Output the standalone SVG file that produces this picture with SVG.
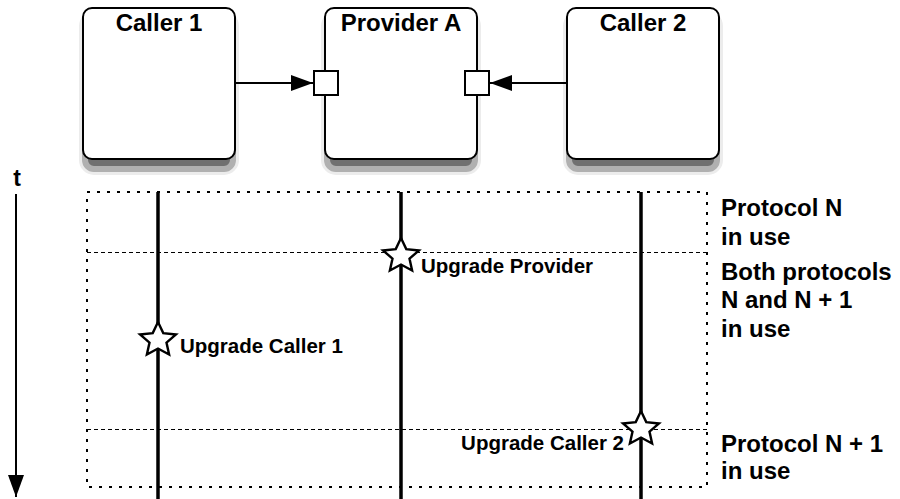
<svg xmlns="http://www.w3.org/2000/svg" xmlns:xlink="http://www.w3.org/1999/xlink" width="900" height="499" viewBox="0 0 900 499">
  <defs>
    <marker id="arrow" markerWidth="22" markerHeight="16" refX="22" refY="8" orient="auto" markerUnits="userSpaceOnUse">
      <path d="M0,0 L22,8 L0,16 Z" fill="#000"/>
    </marker>
    <marker id="tarrow" markerWidth="16" markerHeight="22" refX="8" refY="22" orient="0" markerUnits="userSpaceOnUse">
      <path d="M0,0 L16,0 L8,22 Z" fill="#000"/>
    </marker>
    <path id="star" d="M0,-18 L5.25,-6.88 L17.98,-5.56 L8.49,2.63 L11.11,14.56 L0,8.5 L-11.11,14.56 L-8.49,2.63 L-17.98,-5.56 L-5.25,-6.88 Z"/>
  </defs>
  <style>
    text { font-family: "Liberation Sans", Arial, Helvetica, sans-serif; font-weight: bold; fill: #000; }
    .shout { fill: #d8d8d8; stroke: #ececec; stroke-width: 12; stroke-linejoin: round; }
    .shin { fill: #707070; stroke: #b0b0b0; stroke-width: 6; stroke-linejoin: round; }
    .box { fill: #fff; stroke: #000; stroke-width: 2; }
    .title { font-size: 24px; text-anchor: middle; }
    .port { fill: #fff; stroke: #000; stroke-width: 2; }
    .conn { stroke: #000; stroke-width: 2; fill: none; }
    .frame { fill: none; stroke: #000; stroke-width: 2; stroke-dasharray: 3 7; }
    .phase { stroke: #000; stroke-width: 1.2; stroke-dasharray: 4 3; fill: none; }
    .life { stroke: #000; stroke-width: 3.5; }
    .star { fill: #fff; stroke: #000; stroke-width: 2.4; stroke-linejoin: miter; }
    .event { font-size: 20.5px; }
    .phaselabel { font-size: 24px; }
  </style>

  <g id="shadows">
    <path class="shout" d="M94,17 H224 A9,9 0 0 1 233,26 V160 A9,9 0 0 1 224,169 H94 A9,9 0 0 1 85,160 V26 A9,9 0 0 1 94,17 Z"/>
    <path class="shin" d="M94,17 H224 A9,9 0 0 1 233,26 V160 A9,9 0 0 1 224,169 H94 A9,9 0 0 1 85,160 V26 A9,9 0 0 1 94,17 Z"/>
    <path class="shout" d="M336,17 H466 A9,9 0 0 1 475,26 V160 A9,9 0 0 1 466,169 H336 A9,9 0 0 1 327,160 V26 A9,9 0 0 1 336,17 Z"/>
    <path class="shin" d="M336,17 H466 A9,9 0 0 1 475,26 V160 A9,9 0 0 1 466,169 H336 A9,9 0 0 1 327,160 V26 A9,9 0 0 1 336,17 Z"/>
    <path class="shout" d="M578,17 H708 A9,9 0 0 1 717,26 V160 A9,9 0 0 1 708,169 H578 A9,9 0 0 1 569,160 V26 A9,9 0 0 1 578,17 Z"/>
    <path class="shin" d="M578,17 H708 A9,9 0 0 1 717,26 V160 A9,9 0 0 1 708,169 H578 A9,9 0 0 1 569,160 V26 A9,9 0 0 1 578,17 Z"/>
  </g>

  <g id="caller1">
    <rect class="box" x="83" y="8" width="152" height="151" rx="9" ry="9"/>
    <text class="title" x="159" y="31">Caller 1</text>
  </g>

  <g id="providerA">
    <rect class="box" x="325" y="8" width="152" height="151" rx="9" ry="9"/>
    <text class="title" x="401" y="31">Provider A</text>
    <rect class="port" x="314" y="71" width="24" height="24"/>
    <rect class="port" x="465" y="71" width="24" height="24"/>
  </g>

  <g id="caller2">
    <rect class="box" x="567" y="8" width="152" height="151" rx="9" ry="9"/>
    <text class="title" x="643" y="31">Caller 2</text>
  </g>

  <g id="connectors">
    <line class="conn" x1="235" y1="83" x2="313" y2="83" marker-end="url(#arrow)"/>
    <line class="conn" x1="567" y1="83" x2="490" y2="83" marker-end="url(#arrow)"/>
  </g>

  <g id="timeaxis">
    <text x="17" y="186" font-size="23" text-anchor="middle">t</text>
    <line class="conn" x1="16" y1="194" x2="16" y2="497" marker-end="url(#tarrow)"/>
  </g>

  <g id="timeline">
    <rect class="frame" x="87" y="192" width="620" height="295"/>
    <line class="phase" x1="87" y1="252.5" x2="707" y2="252.5"/>
    <line class="phase" x1="87" y1="429.5" x2="707" y2="429.5"/>
    <line class="life" x1="158" y1="192" x2="158" y2="499"/>
    <line class="life" x1="401" y1="192" x2="401" y2="499"/>
    <line class="life" x1="641" y1="192" x2="641" y2="499"/>
  </g>

  <g id="upgradeProvider">
    <use href="#star" class="star" x="401" y="256"/>
    <text class="event" x="421" y="273">Upgrade Provider</text>
  </g>
  <g id="upgradeCaller1">
    <use href="#star" class="star" x="158" y="340"/>
    <text class="event" x="180" y="353">Upgrade Caller 1</text>
  </g>
  <g id="upgradeCaller2">
    <use href="#star" class="star" x="641" y="429"/>
    <text class="event" x="624" y="450" text-anchor="end">Upgrade Caller 2</text>
  </g>

  <g id="phaseLabels">
    <text class="phaselabel" x="721" y="216">Protocol N</text>
    <text class="phaselabel" x="721" y="245">in use</text>
    <text class="phaselabel" x="721" y="280">Both protocols</text>
    <text class="phaselabel" x="721" y="308">N and N + 1</text>
    <text class="phaselabel" x="721" y="337">in use</text>
    <text class="phaselabel" x="721" y="452">Protocol N + 1</text>
    <text class="phaselabel" x="721" y="479">in use</text>
  </g>
</svg>
